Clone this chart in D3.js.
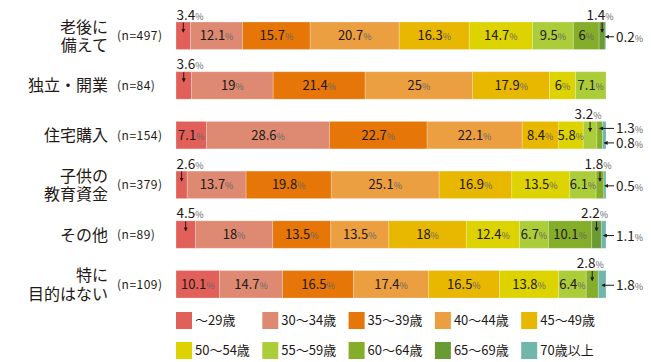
<!DOCTYPE html>
<html>
<head>
<meta charset="utf-8">
<script src="https://cdn.jsdelivr.net/npm/d3@7"></script>
<style>
  body { margin: 0; background: #fff; }
  svg { display: block; font-family: "Noto Sans CJK JP", "Noto Sans", sans-serif; }
</style>
</head>
<body>
<svg width="651" height="362"></svg>
<script>
// row labels and sample sizes
var categories = ["老後に\n備えて", "独立・開業", "住宅購入", "子供の\n教育資金", "その他", "特に\n目的はない"];
var sampleSizes = [497, 84, 154, 379, 89, 109];

// age groups (stack order, left to right)
var ageGroups = ["～29歳", "30～34歳", "35～39歳", "40～44歳", "45～49歳",
                 "50～54歳", "55～59歳", "60～64歳", "65～69歳", "70歳以上"];

// shares in % per row, one value per age group
var rougo     = [3.4, 12.1, 15.7, 20.7, 16.3, 14.7, 9.5, 6, 1.4, 0.2];
var dokuritsu = [3.6, 19, 21.4, 25, 17.9, 6, 7.1, 0, 0, 0];
var jutaku    = [7.1, 28.6, 22.7, 22.1, 8.4, 5.8, 3.2, 1.3, 0, 0.8];
var kyoiku    = [2.6, 13.7, 19.8, 25.1, 16.9, 13.5, 6.1, 1.8, 0, 0.5];
var sonota    = [4.5, 18, 13.5, 13.5, 18, 12.4, 6.7, 10.1, 2.2, 1.1];
var tokuni    = [10.1, 14.7, 16.5, 17.4, 16.5, 13.8, 6.4, 2.8, 0, 1.8];

var colors = ["#e2605a", "#de8a72", "#e57607", "#eb9f41", "#e8b700",
              "#dcd300", "#abcd3a", "#84ae2a", "#6a9a33", "#70b6a9"];

var rows = [rougo, dokuritsu, jutaku, kyoiku, sonota, tokuni].map(function(v, i) {
  var obj = { name: categories[i], n: sampleSizes[i] };
  v.forEach(function(val, k) { obj[k] = val; });
  return obj;
});

var svg = d3.select("svg");
var ink = "#231815";

var x = d3.scaleLinear().domain([0, 100]).range([176, 606]);
var y = d3.scaleBand().domain(categories).range([10.9, 309.1])
  .paddingInner(0.447).paddingOuter(0.2235);

var keys = d3.range(ageGroups.length);
var series = d3.stack().keys(keys)(rows);

svg.append("defs").append("marker")
  .attr("id", "tip")
  .attr("viewBox", "0 0 6 6")
  .attr("refX", 5).attr("refY", 3)
  .attr("markerWidth", 4).attr("markerHeight", 4)
  .attr("orient", "auto")
  .append("path").attr("d", "M0,0L6,3L0,6Z").attr("fill", ink);

// segments
svg.append("g").selectAll("g")
  .data(series)
  .join("g")
  .attr("fill", function(d) { return colors[d.key]; })
  .selectAll("rect")
  .data(function(d) { return d.filter(function(s) { return s[1] - s[0] > 0; }); })
  .join("rect")
  .attr("x", function(d) { return x(d[0]); })
  .attr("y", function(d) { return y(d.data.name); })
  .attr("width", function(d) { return x(d[1]) - x(d[0]); })
  .attr("height", y.bandwidth())
  .attr("stroke", "#fff").attr("stroke-opacity", 0.3).attr("stroke-width", 0.8);

function pctText(sel, v, size) {
  sel.append("tspan").attr("font-size", size).attr("fill", ink).text(v);
  sel.append("tspan").attr("font-size", 9).attr("fill", "#666").text("%");
}

var labels = svg.append("g");

rows.forEach(function(row) {
  var top = y(row.name), h = y.bandwidth(), mid = top + h / 2;
  var small = [];
  keys.forEach(function(k) {
    var v = row[k];
    if (!v) return;
    var s = series[k].find(function(p) { return p.data === row; });
    var cx = (x(s[0]) + x(s[1])) / 2;
    if (v >= 5) {
      var t = labels.append("text").attr("x", cx).attr("y", mid + 4.5)
        .attr("text-anchor", "middle");
      pctText(t, v, 13);
    } else {
      small.push({ k: k, v: v, cx: cx });
    }
  });

  var tail = small.filter(function(d) { return d.k > 0; });
  small.filter(function(d) { return d.k === 0; }).forEach(function(d) {
    var t = labels.append("text").attr("x", x(0) + 0.5).attr("y", top - 2.5);
    pctText(t, d.v, 13.5);
    labels.append("line").attr("x1", d.cx).attr("x2", d.cx)
      .attr("y1", top + 0.5).attr("y2", top + 10)
      .attr("stroke", ink).attr("stroke-width", 1).attr("marker-end", "url(#tip)");
  });

  tail.forEach(function(d, i) {
    if (i === 0 && tail.length > 1) {
      var t = labels.append("text").attr("x", d.cx - 2).attr("y", top - 2.5)
        .attr("text-anchor", "middle");
      pctText(t, d.v, 13.5);
      labels.append("line").attr("x1", d.cx).attr("x2", d.cx)
        .attr("y1", top + 0.5).attr("y2", top + 10)
        .attr("stroke", ink).attr("stroke-width", 1).attr("marker-end", "url(#tip)");
    } else {
      var rest = tail.length > 1 ? tail.length - 1 : 1;
      var j = tail.length > 1 ? i - 1 : 0;
      var ly = rest === 1 ? mid + 1 : (j === 0 ? top + 7 : top + h - 6);
      labels.append("line").attr("x1", x(100) + 8).attr("x2", d.cx)
        .attr("y1", ly).attr("y2", ly)
        .attr("stroke", ink).attr("stroke-width", 1).attr("marker-end", "url(#tip)");
      var t = labels.append("text").attr("x", x(100) + 10).attr("y", ly + 5);
      pctText(t, d.v, 13.5);
    }
  });

  // row label
  var lines = row.name.split("\n");
  var lt = labels.append("text").attr("x", 108).attr("text-anchor", "end")
    .attr("font-size", 16).attr("fill", ink);
  lines.forEach(function(l, i) {
    lt.append("tspan").attr("x", 108)
      .attr("y", mid + 6 + (i - (lines.length - 1) / 2) * 18.5)
      .text(l);
  });
  labels.append("text").attr("x", 117).attr("y", mid + 4.5)
    .attr("font-size", 12).attr("letter-spacing", 0.5).attr("fill", ink)
    .text("(n=" + row.n + ")");
});

// legend
var lg = svg.append("g").selectAll("g")
  .data(ageGroups)
  .join("g")
  .attr("transform", function(d, i) {
    return "translate(" + (176 + (i % 5) * 86.3) + "," + (312 + Math.floor(i / 5) * 30) + ")";
  });
lg.append("rect").attr("width", 16).attr("height", 17)
  .attr("fill", function(d, i) { return colors[i]; });
lg.append("text").attr("x", 19).attr("y", 13)
  .attr("font-size", 13).attr("fill", ink)
  .text(function(d) { return d; });
</script>
</body>
</html>
